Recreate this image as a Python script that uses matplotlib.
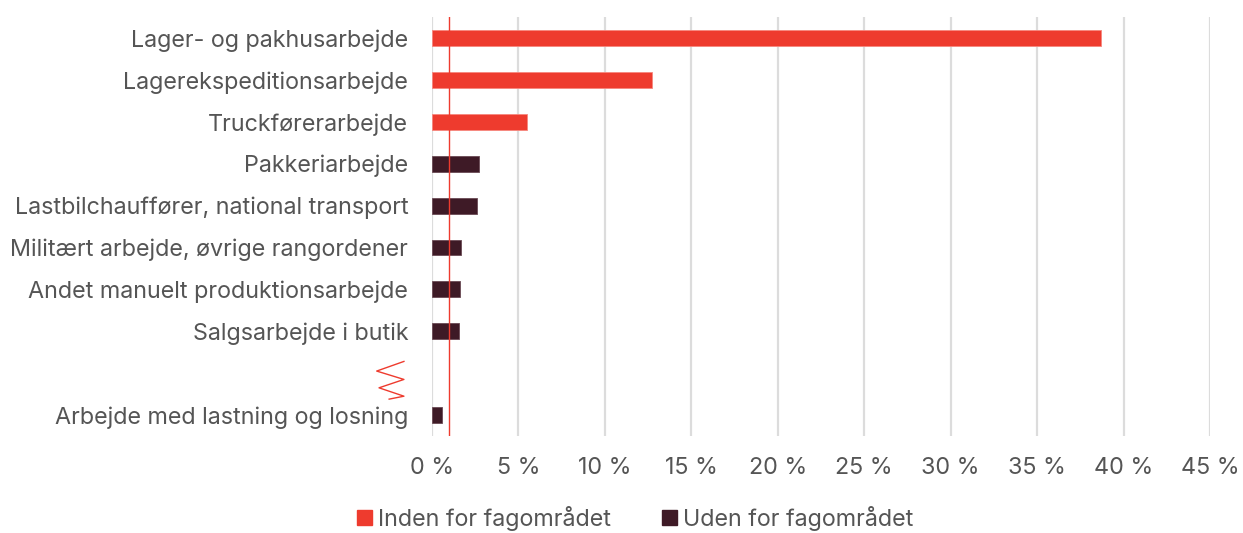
import numpy as np
import matplotlib.pyplot as plt
from matplotlib.patches import Patch
import matplotlib.transforms as mtransforms

kategorier = [
    "Lager- og pakhusarbejde",
    "Lagerekspeditionsarbejde",
    "Truckførerarbejde",
    "Pakkeriarbejde",
    "Lastbilchauffører, national transport",
    "Militært arbejde, øvrige rangordener",
    "Andet manuelt produktionsarbejde",
    "Salgsarbejde i butik",
    "",
    "Arbejde med lastning og losning",
]
andele = [38.7, 12.7, 5.5, 2.7, 2.6, 1.7, 1.6, 1.55, np.nan, 0.6]
inden = [True, True, True, False, False, False, False, False, False, False]
graense = 1.0
xticks = [0, 5, 10, 15, 20, 25, 30, 35, 40, 45]

roed = "#EE3B2E"
moerk = "#3E1A26"
tekst = "#555555"

plt.rcParams['font.family'] = ['Inter', 'DejaVu Sans']

fig = plt.figure(figsize=(12.43, 5.33), dpi=100)
ax = fig.add_axes([0.3475, 0.182, 0.626, 0.786])

y = np.arange(len(kategorier))
# kun rækker med en værdi får en søjle
med = [i for i in range(len(andele)) if not np.isnan(andele[i])]
farver = [roed if inden[i] else moerk for i in med]
kanter = ["#F7877D" if inden[i] else "#6a4a54" for i in med]
ax.barh([y[i] for i in med], [andele[i] for i in med], height=0.38,
        color=farver, edgecolor=kanter, linewidth=0.6, zorder=3)

ax.set_xlim(0, 45)
ax.set_ylim(9.5, -0.5)
ax.set_xticks(xticks)
ax.set_xticklabels([f"{v} %" for v in xticks])
ax.set_yticks(y)
ax.set_yticklabels(kategorier)
ax.tick_params(axis='both', length=0, labelsize=16.8, labelcolor=tekst)
ax.tick_params(axis='y', pad=17)
ax.tick_params(axis='x', pad=15)
ax.grid(axis='x', color="#dcdcdc", linewidth=1.6, zorder=0)
for s in ax.spines.values():
    s.set_visible(False)

ax.axvline(graense, color=roed, linewidth=1, zorder=4)

# zigzag som markerer afbrudt akse
trans = mtransforms.blended_transform_factory(ax.transAxes, ax.transData)
zx = [-0.036, -0.071, -0.036, -0.068, -0.036, -0.055]
zy = [7.72, 7.95, 8.15, 8.35, 8.55, 8.62]
ax.plot(zx, zy, color=roed, linewidth=1, transform=trans, clip_on=False)

handles = [Patch(color=roed, label="Inden for fagområdet"),
           Patch(color=moerk, label="Uden for fagområdet")]
fig.legend(handles=handles, loc='center', bbox_to_anchor=(0.511, 0.028), ncol=2,
           frameon=False, fontsize=16.8, labelcolor=tekst, handlelength=0.65,
           handleheight=0.65, handletextpad=0.25, columnspacing=2.2)

fig.savefig("out.png", dpi=100)
